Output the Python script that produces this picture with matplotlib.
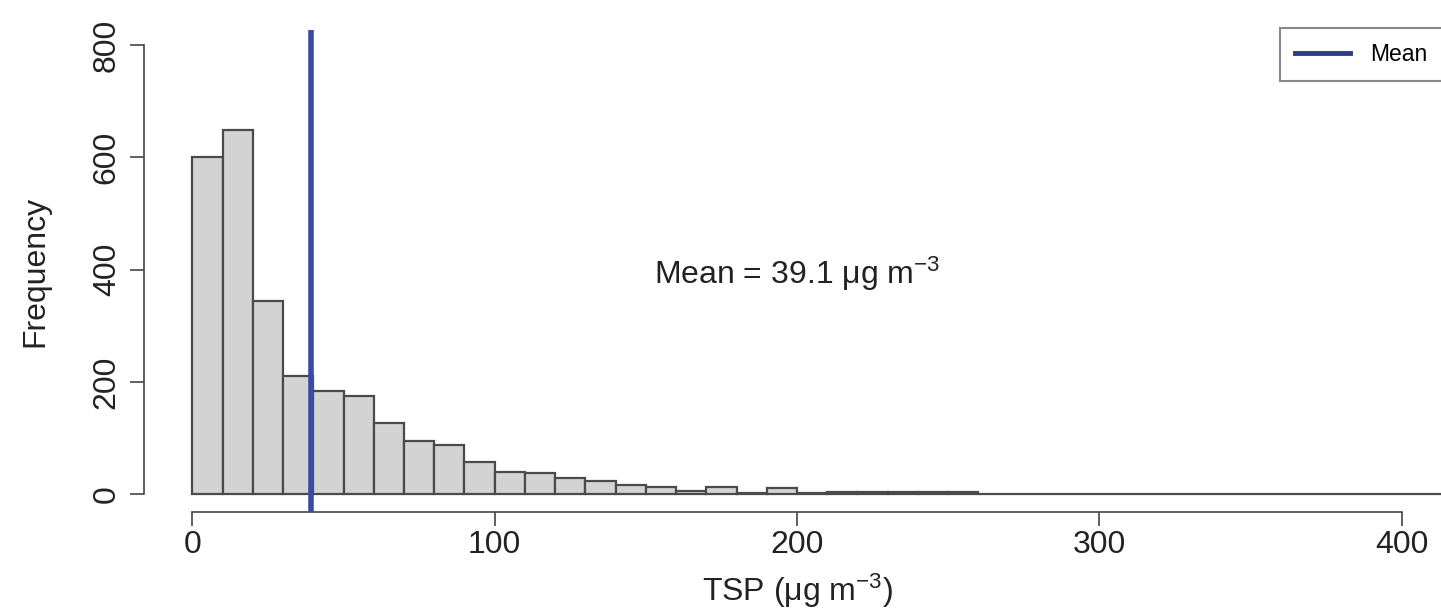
import matplotlib
matplotlib.use('Agg')
from matplotlib import pyplot as plt

# histogram of TSP, bins of 10 ug/m3 (counts)
bin_width = 10
bin_starts = list(range(0, 420, 10))
counts = [601, 648, 344, 210, 183, 174, 126, 95, 88, 57,
          40, 38, 29, 23, 16, 13, 5, 12, 2, 10,
          1, 3, 3, 3, 3, 3, 0, 0, 0, 0,
          0, 0, 0, 0, 0, 0, 0, 0, 0, 0,
          0, 0]
mean_tsp = 39.1
x_ticks = [0, 100, 200, 300, 400]
y_ticks = [0, 200, 400, 600, 800]

plt.rcParams['font.family'] = ['Liberation Sans', 'DejaVu Sans']
plt.rcParams['mathtext.fontset'] = 'custom'
plt.rcParams['mathtext.rm'] = 'Liberation Sans'
plt.rcParams['mathtext.default'] = 'regular'

W, H = 1441, 610
fig = plt.figure(figsize=(W / 100, H / 100), dpi=100)
# plot region in pixels: left 144, right 1450 (beyond the edge), top 30, bottom 512
ax = fig.add_axes([144 / W, (H - 512) / H, (1450 - 144) / W, (512 - 30) / H])

ax.bar(bin_starts, counts, width=bin_width, align='edge',
       color='#d3d3d3', edgecolor='#4a4a4a', linewidth=1.6, zorder=2)
ax.axvline(mean_tsp, color='#3b4aa3', linewidth=4, zorder=3, label='Mean')

ax.set_xlim(-16, 416)
ax.set_ylim(-32, 827)

for s in ['top', 'right']:
    ax.spines[s].set_visible(False)
ax.spines['left'].set_bounds(0, 800)
ax.spines['bottom'].set_bounds(0, 400)
for s in ['left', 'bottom']:
    ax.spines[s].set_color('#444444')
    ax.spines[s].set_linewidth(1.2)

ax.set_xticks(x_ticks)
ax.set_yticks(y_ticks)
ax.tick_params(axis='both', direction='out', length=10, width=1.2,
               color='#444444', labelsize=23, labelcolor='#222222')
ax.tick_params(axis='x', pad=3)
ax.tick_params(axis='y', pad=6, labelrotation=90)
for lab in ax.get_yticklabels():
    lab.set_va('center')

ax.text(200, 393, 'Mean = 39.1 μg m$^{-3}$', ha='center', va='center',
        fontsize=23, color='#222222')

ax.set_xlabel('TSP (μg m$^{-3}$)', fontsize=23, color='#222222')
ax.xaxis.set_label_coords(0.5, -0.163)
ax.xaxis.label.set_va('center')
ax.set_ylabel('Frequency', fontsize=23, color='#222222')
ax.yaxis.set_label_coords(-0.0835, 0.5)
ax.yaxis.label.set_va('center')

leg = ax.legend(loc='upper left', bbox_to_anchor=(1280 / W, (H - 28) / H),
                bbox_transform=fig.transFigure, borderaxespad=0,
                fontsize=16.5, handlelength=2.4, handletextpad=0.9,
                borderpad=0.65, fancybox=False, framealpha=1)
leg.get_frame().set_edgecolor('#888888')
leg.get_frame().set_linewidth(1.5)
for line in leg.get_lines():
    line.set_color('#2e3a8a')
    line.set_linewidth(3.5)

fig.savefig('out.png', dpi=100)
